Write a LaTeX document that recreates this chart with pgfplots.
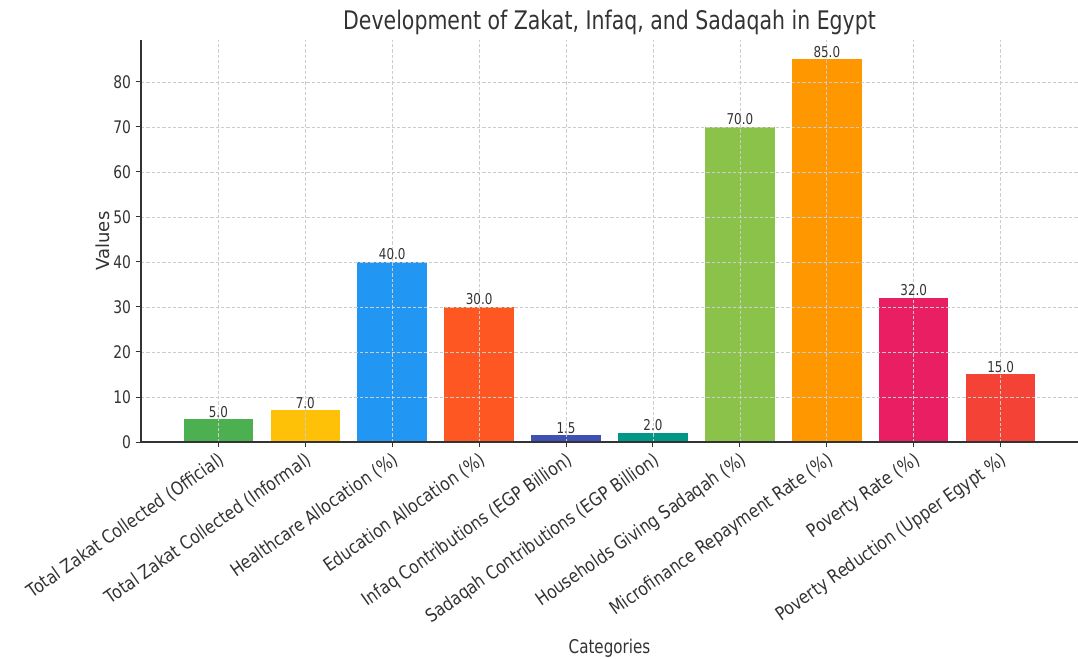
\documentclass[border=0pt]{standalone}
\usepackage{fontspec}
\setmainfont{DejaVu Sans}[FakeStretch=0.8]
\newfontfamily\xlabfont{DejaVu Sans}[FakeStretch=0.85]
\newfontfamily\plainfont{DejaVu Sans}
\usepackage{pgfplots}
\pgfplotsset{compat=1.18}
\definecolor{c1}{HTML}{4CAF50}
\definecolor{c2}{HTML}{FFC107}
\definecolor{c3}{HTML}{2196F3}
\definecolor{c4}{HTML}{FF5722}
\definecolor{c5}{HTML}{3F51B5}
\definecolor{c6}{HTML}{009688}
\definecolor{c7}{HTML}{8BC34A}
\definecolor{c8}{HTML}{FF9800}
\definecolor{c9}{HTML}{E91E63}
\definecolor{c10}{HTML}{F44336}
\definecolor{txt}{HTML}{333333}
\begin{document}
\begin{tikzpicture}
\useasboundingbox (0,0) rectangle (808.5pt,494.25pt);
\begin{axis}[
  at={(105.75pt,162.75pt)}, anchor=south west,
  scale only axis, width=702.75pt, height=301.5pt,
  xmin=-0.89, xmax=9.89, ymin=0, ymax=89.3,
  axis x line*=bottom, axis y line*=left,
  axis line style={txt, line width=0.9pt},
  ybar, bar width=0.8,
  xtick={0,1,2,3,4,5,6,7,8,9},
  xticklabels={Total Zakat Collected (Official),Total Zakat Collected (Informal),Healthcare Allocation (\%),Education Allocation (\%),Infaq Contributions (EGP Billion),Sadaqah Contributions (EGP Billion),Households Giving Sadaqah (\%),Microfinance Repayment Rate (\%),Poverty Rate (\%),Poverty Reduction (Upper Egypt \%)},
  ytick={0,10,20,30,40,50,60,70,80},
  tick align=outside, major tick length=4pt,
  tick style={txt, line width=0.7pt},
  grid=major,
  grid style={gray!40, dash pattern=on 2.5pt off 1.5pt, line width=0.5pt},
  axis on top,
  /pgf/number format/assume math mode=true,
  x tick label style={rotate=35, anchor=north east, font=\xlabfont\fontsize{13.8}{16}\selectfont, text=txt, inner sep=2pt},
  y tick label style={font=\fontsize{13}{15}\selectfont, text=txt},
  title={Development of Zakat, Infaq, and Sadaqah in Egypt},
  title style={at={(0.5,1)}, anchor=base, yshift=1.5pt, font=\fontsize{19.2}{22}\selectfont, text=txt},
  ylabel={Values},
  ylabel style={at={(axis description cs:-0.0406,0.5)}, anchor=center, font=\plainfont\fontsize{13.5}{16}\selectfont, text=txt},
  xlabel={Categories},
  xlabel style={at={(axis description cs:0.5,-0.5124)}, anchor=center, font=\fontsize{14.2}{16}\selectfont, text=txt},
  nodes near coords={\pgfmathprintnumber[fixed,fixed zerofill,precision=1]{\pgfplotspointmeta}},
  every node near coord/.append style={font=\fontsize{11.2}{13}\selectfont, text=txt, anchor=south, inner sep=1.2pt},
]
\addplot[fill=c1, draw=none, bar shift=0pt] coordinates {(0,5.0)};
\addplot[fill=c2, draw=none, bar shift=0pt] coordinates {(1,7.0)};
\addplot[fill=c3, draw=none, bar shift=0pt] coordinates {(2,40.0)};
\addplot[fill=c4, draw=none, bar shift=0pt] coordinates {(3,30.0)};
\addplot[fill=c5, draw=none, bar shift=0pt] coordinates {(4,1.5)};
\addplot[fill=c6, draw=none, bar shift=0pt] coordinates {(5,2.0)};
\addplot[fill=c7, draw=none, bar shift=0pt] coordinates {(6,70.0)};
\addplot[fill=c8, draw=none, bar shift=0pt] coordinates {(7,85.0)};
\addplot[fill=c9, draw=none, bar shift=0pt] coordinates {(8,32.0)};
\addplot[fill=c10, draw=none, bar shift=0pt] coordinates {(9,15.0)};
\end{axis}
\end{tikzpicture}
\end{document}
